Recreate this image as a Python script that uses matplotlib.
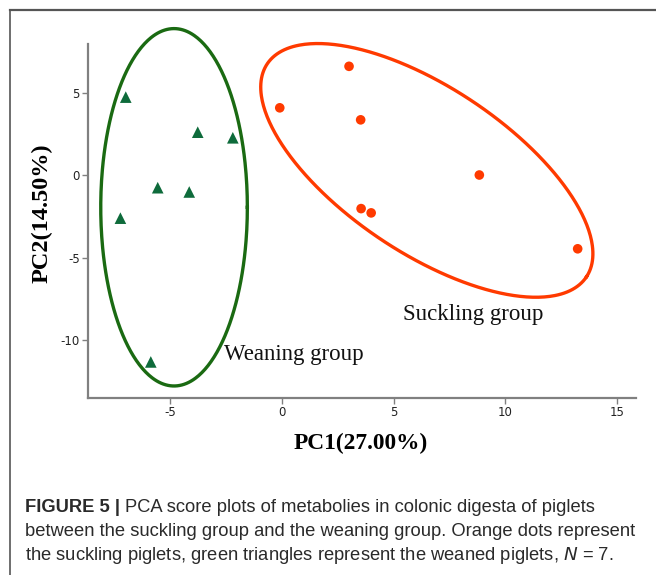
import numpy as np
import matplotlib
matplotlib.use("Agg")
import matplotlib.pyplot as plt
from matplotlib.lines import Line2D

# PCA scores (PC1, PC2) per piglet
weaning_pc1 = [-6.98, -3.76, -2.19, -5.55, -4.14, -7.22, -5.86]
weaning_pc2 = [4.75, 2.62, 2.28, -0.75, -1.01, -2.60, -11.33]
suckling_pc1 = [3.01, -0.09, 3.53, 8.84, 3.55, 4.00, 13.24]
suckling_pc2 = [6.62, 4.10, 3.37, 0.02, -2.02, -2.28, -4.46]

# Confidence ellipses: center and two semi-axis vectors in score units
weaning_center = (-4.82, -1.94)
weaning_axes = ((3.28, 0.0), (0.0, 10.85))
suckling_center = (6.49, 0.30)
suckling_axes = ((7.14, -6.47), (-2.06, -4.18))

x_ticks = [-5, 0, 5, 10, 15]
y_ticks = [-10, -5, 0, 5]

GREEN_PT = "#0e6b3b"
GREEN_LN = "#1a6a12"
RED = "#ff3a00"
AXIS_GRAY = "#808080"

fig = plt.figure(figsize=(6.56, 5.75), dpi=100)

# Outer frame of the figure panel (open at right and bottom)
fig.add_artist(Line2D([10 / 656, 1.0], [1 - 10 / 575] * 2, transform=fig.transFigure,
                      color="#555555", lw=1.6))
fig.add_artist(Line2D([10 / 656] * 2, [1 - 10 / 575, 0.0], transform=fig.transFigure,
                      color="#555555", lw=1.2))

ax = fig.add_axes([88 / 656, 1 - 398 / 575, (636 - 88) / 656, (398 - 44) / 575])
ax.set_xlim(-8.67, 15.85)
ax.set_ylim(-13.52, 7.975)

for side in ("top", "right"):
    ax.spines[side].set_visible(False)
for side in ("left", "bottom"):
    ax.spines[side].set_color(AXIS_GRAY)
    ax.spines[side].set_linewidth(1.6)

ax.set_xticks(x_ticks)
ax.set_yticks(y_ticks)
ax.set_xticklabels([str(v) for v in x_ticks], family="Liberation Sans Narrow")
ax.set_yticklabels([str(v) for v in y_ticks], family="Liberation Sans Narrow")
ax.tick_params(direction="out", length=4, width=1, color=AXIS_GRAY,
               labelsize=8.5, labelcolor="#222222", pad=2)

t = np.linspace(0, 2 * np.pi, 400)


def draw_ellipse(center, axes_vecs, color):
    (ux, uy), (vx, vy) = axes_vecs
    ex = center[0] + ux * np.cos(t) + vx * np.sin(t)
    ey = center[1] + uy * np.cos(t) + vy * np.sin(t)
    ax.plot(ex, ey, color=color, lw=2.4, clip_on=False, zorder=2)


draw_ellipse(weaning_center, weaning_axes, GREEN_LN)
draw_ellipse(suckling_center, suckling_axes, RED)

ax.scatter(weaning_pc1, weaning_pc2, marker="^", s=70, color=GREEN_PT,
           edgecolors="none", zorder=3, clip_on=False)
ax.scatter(suckling_pc1, suckling_pc2, marker="o", s=48, color=RED,
           edgecolors="none", zorder=3, clip_on=False)

ax.text(8.55, -8.42, "Suckling group", family="Liberation Serif", fontsize=16.5,
        ha="center", va="center", color="#111111")
ax.text(-2.6, -10.9, "Weaning group", family="Liberation Serif", fontsize=16.5,
        ha="left", va="center", color="#111111")

ax.set_xlabel("PC1(27.00%)", family="Liberation Serif", fontweight="bold",
              fontsize=16.8)
ax.set_ylabel("PC2(14.50%)", family="Liberation Serif", fontweight="bold",
              fontsize=17.5)
ax.xaxis.set_label_coords(0.497, -0.129)
ax.yaxis.set_label_coords(-0.084, 0.523)
ax.xaxis.label.set_va("center")
ax.yaxis.label.set_va("center")

# Figure caption
cap_x = 25 / 656
cap_font = "Liberation Sans"
cap_color = "#2a2a2a"
cap_size = 13.2
y1 = 1 - 507 / 575
lead = fig.text(cap_x, y1, "FIGURE 5 | ", family=cap_font, fontweight="bold",
                fontsize=cap_size, color=cap_color, va="center")
fig.canvas.draw()
bb = lead.get_window_extent()
fig.text(bb.x1 / fig.bbox.width, y1,
         "PCA score plots of metabolies in colonic digesta of piglets",
         family=cap_font, fontsize=cap_size, color=cap_color, va="center")
fig.text(cap_x, 1 - 531 / 575,
         "between the suckling group and the weaning group. Orange dots represent",
         family=cap_font, fontsize=cap_size, color=cap_color, va="center")
fig.text(cap_x, 1 - 555 / 575,
         "the suckling piglets, green triangles represent the weaned piglets, $N$ = 7.",
         family=cap_font, fontsize=cap_size, color=cap_color, va="center")

fig.savefig("out.png", dpi=100)
